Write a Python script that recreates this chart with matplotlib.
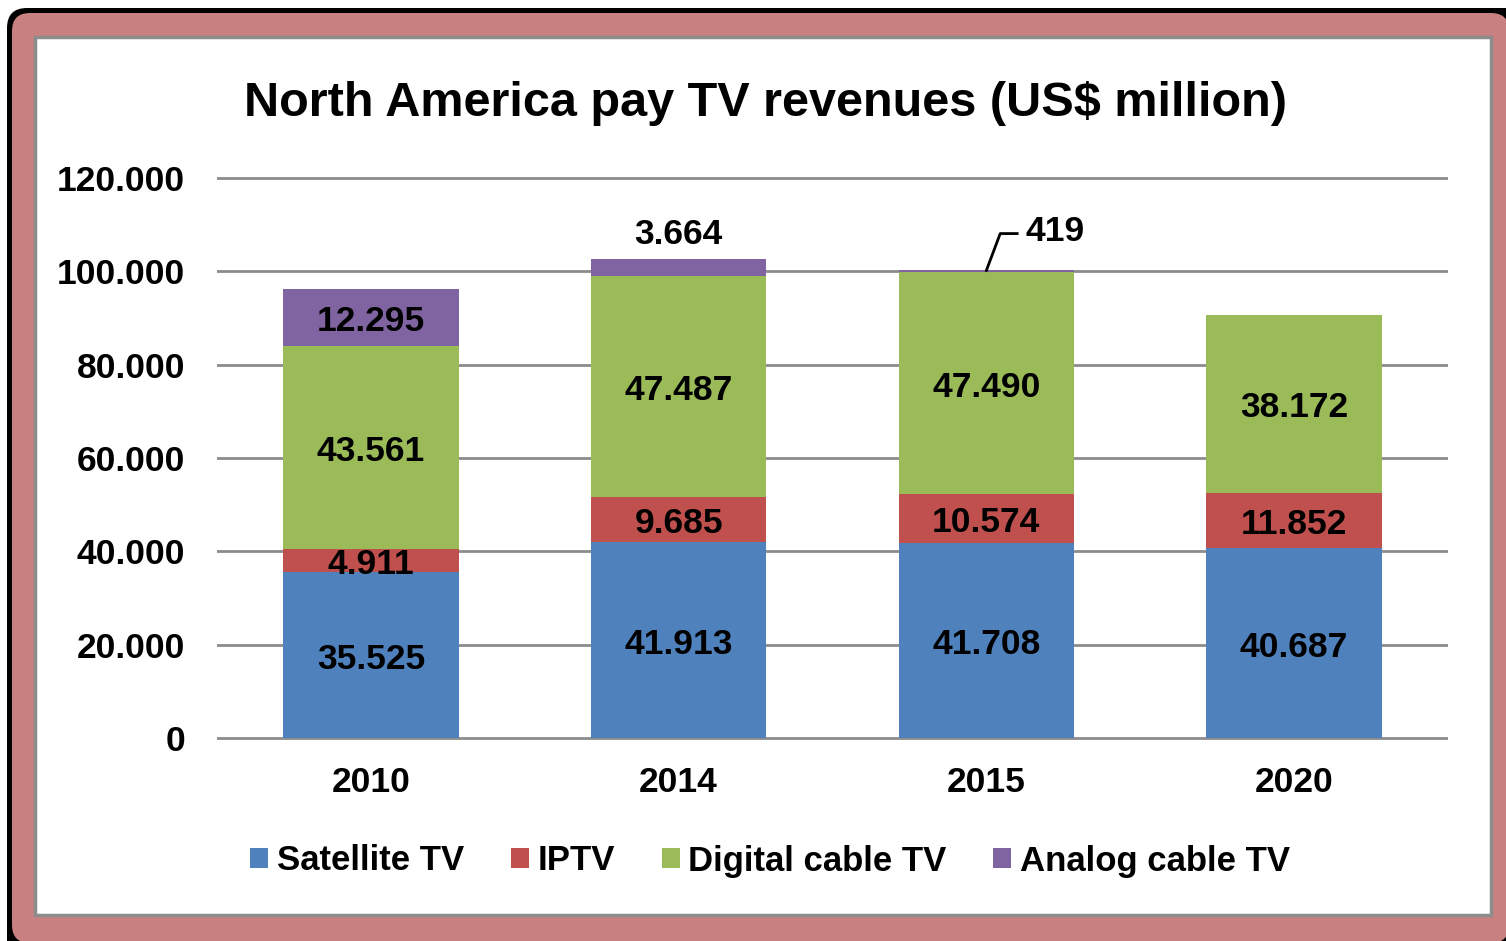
import matplotlib
matplotlib.use('Agg')
import matplotlib.pyplot as plt
from matplotlib.patches import FancyBboxPatch, Patch
from matplotlib.transforms import IdentityTransform
import numpy as np

years = ['2010', '2014', '2015', '2020']
satellite = np.array([35525, 41913, 41708, 40687])
iptv = np.array([4911, 9685, 10574, 11852])
digital = np.array([43561, 47487, 47490, 38172])
analog = np.array([12295, 3664, 419, 0])
series_names = ['Satellite TV', 'IPTV', 'Digital cable TV', 'Analog cable TV']
colors = ['#4F81BD', '#C0504D', '#9BBB59', '#8064A2']

plt.rcParams['font.family'] = ['Liberation Sans', 'DejaVu Sans']
plt.rcParams['font.weight'] = 'bold'

W, H = 1506, 941
fig = plt.figure(figsize=(W / 100, H / 100), dpi=100, facecolor='white')

def px_box(x0, y0, x1, y1, **kw):
    # box given in image pixels (origin top-left)
    p = FancyBboxPatch((x0, H - y1), x1 - x0, y1 - y0, transform=IdentityTransform(), **kw)
    fig.add_artist(p)

px_box(7, 8, 1530, 980, boxstyle='round,pad=0,rounding_size=20', facecolor='black', edgecolor='none', zorder=-5)
px_box(12, 13, 1509, 943, boxstyle='round,pad=0,rounding_size=18', facecolor='#C98080', edgecolor='none', zorder=-4)
px_box(35, 37, 1491, 915, boxstyle='square,pad=0', facecolor='white', edgecolor='#8C8C8C', linewidth=2.5, zorder=-3)

ax = fig.add_axes([217 / W, 1 - 742.67 / H, (1448 - 217) / W, (742.67 - 173.33) / H])
ax.set_facecolor('none')
x = np.arange(len(years))
bw = 0.57

bottoms = np.zeros(len(years))
segments = [satellite, iptv, digital, analog]
for vals, name, c in zip(segments, series_names, colors):
    ax.bar(x, vals, bw, bottom=bottoms, color=c, label=name, zorder=2)
    bottoms = bottoms + vals

ax.set_xlim(-0.5, 3.5)
ax.set_ylim(-1000, 121000)
yt = np.arange(0, 120001, 20000)
for v in yt:
    ax.axhline(v, color='#8C8C8C', linewidth=2, zorder=1)
ax.set_yticks(yt)
ax.set_yticklabels(['0' if v == 0 else f'{v // 1000}.000' for v in yt])
ax.set_xticks(x)
ax.set_xticklabels(years)
ax.tick_params(axis='both', length=0, labelsize=25.5)
ax.tick_params(axis='y', pad=23)
ax.tick_params(axis='x', pad=16.5)
for s in ax.spines.values():
    s.set_visible(False)

def fmt(v):
    return f'{v // 1000}.{v % 1000:03d}' if v >= 1000 else str(v)

# segment labels (small downward nudge so glyphs sit centred like the original)
nudge = -850
bottoms = np.zeros(len(years))
for si, vals in enumerate(segments):
    for i, v in enumerate(vals):
        if v == 0:
            continue
        if si == 3 and i == 1:
            ax.text(i, bottoms[i] + v + 5900 + nudge, fmt(v), ha='center', va='center', fontsize=25.5, fontweight='bold')
        elif si == 3 and i == 2:
            top = bottoms[i] + v
            ax.plot([i, i + 0.045, i + 0.10], [top, top + 7900, top + 7900], color='black', linewidth=2, zorder=3)
            ax.text(i + 0.224, top + 9100 + nudge, fmt(v), ha='center', va='center', fontsize=25.5, fontweight='bold')
        else:
            ax.text(i, bottoms[i] + v / 2 + nudge, fmt(v), ha='center', va='center', fontsize=25.5, fontweight='bold', zorder=4)
    bottoms = bottoms + vals

fig.text(765 / W, 1 - 104 / H, 'North America pay TV revenues (US$ million)', ha='center', va='center',
         fontsize=35, fontweight='bold')

handles = [Patch(facecolor=c, edgecolor='none') for c in colors]
fig.legend(handles, series_names, loc='center', bbox_to_anchor=(770 / W, 1 - 861 / H), ncol=4, frameon=False,
           fontsize=25, handlelength=0.52, handleheight=0.52, handletextpad=0.25, columnspacing=1.35)

fig.savefig('out.png', dpi=100)
